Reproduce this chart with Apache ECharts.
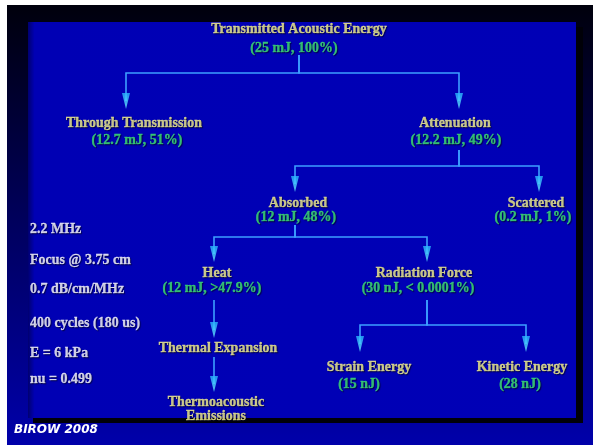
<!DOCTYPE html>
<html>
<head>
<meta charset="utf-8">
<script src="https://cdn.jsdelivr.net/npm/echarts@6/dist/echarts.min.js"></script>
<style>
  html, body { margin: 0; padding: 0; background: #fff; }
  #main { width: 593px; height: 445px; }
</style>
</head>
<body>
<div id="main"></div>
<script>
// 能量分配树 - 节点数据
const nodeNames = ['Transmitted Acoustic Energy', 'Through Transmission', 'Attenuation', 'Absorbed', 'Scattered',
  'Heat', 'Radiation Force', 'Thermal Expansion', 'Thermoacoustic\nEmissions', 'Strain Energy', 'Kinetic Energy'];
const nodeValues = ['(25 mJ, 100%)', '(12.7 mJ, 51%)', '(12.2 mJ, 49%)', '(12 mJ, 48%)', '(0.2 mJ, 1%)',
  '(12 mJ, >47.9%)', '(30 nJ, < 0.0001%)', '', '', '(15 nJ)', '(28 nJ)'];
const nodeParent = [-1, 0, 0, 2, 2, 3, 3, 5, 7, 6, 6];

// 左侧参数
const paramLabels = ['2.2 MHz', 'Focus @ 3.75 cm', '0.7 dB/cm/MHz', '400 cycles (180 us)', 'E = 6 kPa', 'nu = 0.499'];
const paramY = [229, 260, 289, 323, 353, 379];

// 布局 (画布坐标)
const nameX = [299, 134, 455, 298, 536, 217, 424, 218, 216, 369, 522];
const nameY = [29, 123, 123, 203, 203, 273, 273, 348, 409, 367, 367];
const valueX = [294, 137, 456, 296, 533, 212, 418, 0, 0, 359, 520];
const valueY = [48, 140, 140, 217, 217, 288, 288, 0, 0, 384, 384];
const anchorX = [299, 126, 459, 295, 539, 214, 427, 214, 214, 360, 526];
const dropY = [55, 0, 150, 225, 0, 300, 300, 357, 0, 0, 0];
const busY = [73, 0, 166, 237, 0, null, 325, null, 0, 0, 0];
const tipY = [0, 109, 109, 192, 192, 262, 262, 338, 392, 352, 352];

const W = 593, H = 445;
const yellow = '#f6f48e';
const green = '#3ee672';
const serif = '"Liberation Serif", "Times New Roman", serif';

let nameData = [], valueData = [], lineData = [], arrowData = [];
for (let i = 0; i < nodeNames.length; i++) {
  nameData.push({ name: nodeNames[i], value: [nameX[i], nameY[i]] });
  if (nodeValues[i]) valueData.push({ name: nodeValues[i], value: [valueX[i], valueY[i]] });
  let p = nodeParent[i];
  if (p < 0) continue;
  let coords;
  if (busY[p] === null) {
    coords = [[anchorX[p], dropY[p]], [anchorX[i], tipY[i] - 8]];
  } else {
    coords = [[anchorX[p], dropY[p]], [anchorX[p], busY[p]], [anchorX[i], busY[p]], [anchorX[i], tipY[i] - 8]];
  }
  lineData.push({ coords: coords });
  arrowData.push([anchorX[i], tipY[i] - 8]);
}
let paramData = paramLabels.map((t, i) => ({ name: t, value: [30, paramY[i]] }));

const textFx = { textShadowColor: 'rgba(0,0,30,0.7)', textShadowBlur: 1, textShadowOffsetX: 1, textShadowOffsetY: 1 };

var myChart = echarts.init(document.getElementById('main'));
var option = {
  backgroundColor: '#ffffff',
  animation: false,
  grid: { left: 0, right: 0, top: 0, bottom: 0 },
  xAxis: { type: 'value', min: 0, max: W, show: false },
  yAxis: { type: 'value', min: 0, max: H, inverse: true, show: false },
  graphic: [
    {
      type: 'rect', z: -10, shape: { x: 7, y: 5, width: 586, height: 440 },
      style: { fill: new echarts.graphic.LinearGradient(0, 0, 0, 1, [
        { offset: 0, color: '#00000c' }, { offset: 0.5, color: '#00005e' }, { offset: 1, color: '#0000aa' }]) }
    },
    { type: 'rect', z: -9, shape: { x: 33, y: 27, width: 550, height: 396 }, style: { fill: '#000008' } },
    {
      type: 'rect', z: -8, shape: { x: 28, y: 22, width: 548, height: 396 },
      style: { fill: new echarts.graphic.LinearGradient(0, 0, 1, 0, [
        { offset: 0, color: '#000070' }, { offset: 0.012, color: '#0000b4' }, { offset: 1, color: '#0000b6' }]) }
    },
    {
      type: 'text', z: 10, left: 14, top: 424,
      style: { text: 'BIROW 2008', fill: '#ffffff', font: 'italic bold 12px "DejaVu Sans", sans-serif' }
    }
  ],
  series: [
    {
      type: 'lines', coordinateSystem: 'cartesian2d', polyline: true, z: 2,
      lineStyle: { color: '#3d9fff', width: 1.6, opacity: 1 },
      symbol: 'none',
      data: lineData
    },
    {
      type: 'scatter', z: 3,
      symbol: 'path://M0,0 L10,0 L5,20 Z', symbolSize: [8, 16],
      itemStyle: { color: new echarts.graphic.LinearGradient(0, 0, 0, 1, [
        { offset: 0, color: '#28b8ff' }, { offset: 1, color: '#6ef0ff' }]) },
      data: arrowData
    },
    {
      type: 'scatter', z: 4, symbolSize: 0, data: nameData,
      label: { show: true, position: 'inside', formatter: '{b}', color: yellow,
        fontFamily: serif, fontWeight: 'bold', fontSize: 14, lineHeight: 14,
        textBorderColor: yellow, textBorderWidth: 0.4, ...textFx }
    },
    {
      type: 'scatter', z: 4, symbolSize: 0, data: valueData,
      label: { show: true, position: 'inside', formatter: '{b}', color: green,
        fontFamily: serif, fontWeight: 'bold', fontSize: 14,
        textBorderColor: green, textBorderWidth: 0.4, ...textFx }
    },
    {
      type: 'scatter', z: 4, symbolSize: 0, data: paramData,
      label: { show: true, position: 'right', distance: 0, formatter: '{b}', color: '#ffffff',
        fontFamily: serif, fontWeight: 'bold', fontSize: 14,
        textBorderColor: '#ffffff', textBorderWidth: 0.3, ...textFx }
    }
  ]
};
myChart.setOption(option);
</script>
</body>
</html>
